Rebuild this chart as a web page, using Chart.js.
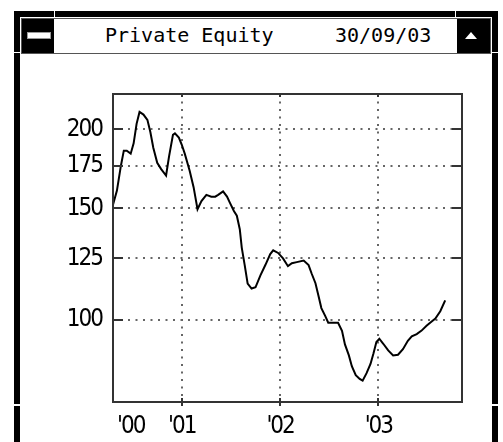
<!DOCTYPE html>
<html>
<head>
<meta charset="utf-8">
<script src="https://cdn.jsdelivr.net/npm/chart.js@4.4.0/dist/chart.umd.min.js"></script>
<style>
  html, body { margin: 0; padding: 0; background: #fff; }
  body { width: 503px; height: 442px; overflow: hidden; position: relative; }
  .abs { position: absolute; }
  #frame { left: 14px; top: 11px; width: 484px; height: 460px; border: 6px solid #000; box-sizing: border-box; }
  .notch { background: #fff; }
  #titlebar { left: 21px; top: 18px; width: 470px; height: 36px; border: 1px solid #555; box-sizing: border-box; background: #fff; }
  #btnMenu { left: 0; top: 0; width: 32px; height: 34px; background: #000; }
  #btnMenu .dash { left: 5px; top: 13px; width: 22px; height: 5px; background: #fff; border: 1px solid #999; }
  #btnUp { right: 0; top: 0; width: 33px; height: 34px; background: #000; }
  #btnUp .tri { left: 8px; top: 13px; width: 0; height: 0; border-left: 6px solid transparent; border-right: 6px solid transparent; border-bottom: 7px solid #fff; }
  .ttl { font-family: "DejaVu Sans Mono", monospace; font-size: 20px; line-height: 20px; color: #000; white-space: pre; }
  #chart { left: 0; top: 0; }
</style>
</head>
<body>
<div id="frame" class="abs"></div>
<div class="abs notch" style="left:54px;top:11px;width:1px;height:6px"></div>
<div class="abs notch" style="left:455px;top:11px;width:1px;height:6px"></div>
<div class="abs notch" style="left:14px;top:52px;width:6px;height:1px"></div>
<div class="abs notch" style="left:492px;top:52px;width:6px;height:1px"></div>
<div class="abs notch" style="left:14px;top:404px;width:6px;height:2px"></div>
<div class="abs notch" style="left:492px;top:404px;width:6px;height:2px"></div>
<div id="titlebar" class="abs">
  <div id="btnMenu" class="abs"><div class="dash abs"></div></div>
  <div id="btnUp" class="abs"><div class="tri abs"></div></div>
</div>
<div class="abs ttl" style="left:105px;top:25px">Private Equity</div>
<div class="abs ttl" style="left:335px;top:25px">30/09/03</div>
<canvas id="chart" class="abs" width="503" height="442"></canvas>
<script>
// index level (x = fractional year)
const dates = [
  2000.30, 2000.34, 2000.38, 2000.41, 2000.44, 2000.48, 2000.51, 2000.54, 2000.57, 2000.61,
  2000.65, 2000.68, 2000.71, 2000.75, 2000.79, 2000.84, 2000.87, 2000.91, 2000.93, 2000.97,
  2001.00, 2001.03, 2001.08, 2001.12, 2001.16, 2001.20, 2001.25, 2001.30, 2001.34, 2001.37,
  2001.42, 2001.46, 2001.49, 2001.53, 2001.56, 2001.59, 2001.61, 2001.64, 2001.67, 2001.71,
  2001.75, 2001.80, 2001.85, 2001.90, 2001.93, 2001.98, 2002.03, 2002.08, 2002.12, 2002.17,
  2002.24, 2002.29, 2002.32, 2002.36, 2002.39, 2002.42, 2002.46, 2002.49, 2002.54, 2002.59,
  2002.63, 2002.66, 2002.70, 2002.73, 2002.77, 2002.81, 2002.84, 2002.88, 2002.92, 2002.95,
  2002.98, 2003.01, 2003.05, 2003.10, 2003.15, 2003.20, 2003.25, 2003.30, 2003.34, 2003.39,
  2003.44, 2003.49, 2003.53, 2003.58, 2003.63, 2003.68
];
const values = [
  152, 160, 175, 185, 185, 183, 190, 204, 213, 211,
  207, 198, 187, 177, 173, 169, 181, 196, 197, 194,
  189, 183, 172, 162, 149.5, 154, 157.5, 156.5, 156.5, 157.5,
  159.5, 156.5, 153, 148.5, 146, 139, 130, 122, 114, 112,
  112.5, 117.5, 122, 127, 128.7, 127.5, 125, 121.5, 122.8, 123.3,
  124, 122, 118.4, 114.2, 109.2, 104.3, 101.3, 98.9, 98.9, 98.9,
  96, 91.4, 87.8, 84.4, 81.7, 80.6, 80.1, 82.3, 85.1, 88.4,
  92.2, 93.3, 91.6, 89.4, 87.8, 88, 89.8, 92.6, 94.1, 94.9,
  96.1, 97.8, 99, 100.4, 103.1, 107.3
];
const yTicks = [100, 125, 150, 175, 200];
const xTickValues = [2000.48, 2001, 2002, 2003];
const xTickLabels = ["'00", "'01", "'02", "'03"];

const labelFont = { family: "'Liberation Sans Narrow', 'DejaVu Sans Condensed', sans-serif", size: 24 };

function line(ctx, x1, y1, x2, y2) {
  ctx.beginPath(); ctx.moveTo(x1, y1); ctx.lineTo(x2, y2); ctx.stroke();
}

// narrow the label glyphs a bit, the original uses a tall narrow bitmap font
const narrowText = {
  id: 'narrowText',
  beforeDraw(chart) { chart.ctx.letterSpacing = '-2px'; },
};

// box round the plot plus the short inner tick marks
const boxTicks = {
  id: 'boxTicks',
  afterDatasetsDraw(chart) {
    const { ctx, chartArea: a, scales: { x, y } } = chart;
    ctx.save();
    ctx.strokeStyle = '#333';
    ctx.lineWidth = 2;
    ctx.strokeRect(a.left, a.top, a.right - a.left, a.bottom - a.top);
    yTicks.forEach(v => {
      const py = Math.round(y.getPixelForValue(v));
      line(ctx, a.left, py, a.left + 10, py);
      line(ctx, a.right - 10, py, a.right, py);
    });
    xTickValues.slice(1).forEach(v => {
      const px = Math.round(x.getPixelForValue(v));
      line(ctx, px, a.bottom - 4, px, a.bottom + 4);
      line(ctx, px, a.top, px, a.top + 3);
    });
    ctx.restore();
  }
};

new Chart(document.getElementById('chart'), {
  type: 'line',
  data: {
    datasets: [{
      data: dates.map((d, i) => ({ x: d, y: values[i] })),
      borderColor: '#000',
      borderWidth: 2,
      pointRadius: 0,
      tension: 0,
      fill: false,
    }],
  },
  options: {
    responsive: false,
    animation: false,
    devicePixelRatio: 1,
    layout: { padding: { left: 0, top: 94, right: 41, bottom: 0 } },
    plugins: { legend: { display: false }, tooltip: { enabled: false } },
    scales: {
      x: {
        type: 'linear',
        min: 2000.30,
        max: 2003.851,
        afterBuildTicks: s => { s.ticks = xTickValues.map(v => ({ value: v })); },
        afterFit: s => { s.height = 40; },
        grid: {
          color: c => (c.index === 0 ? 'rgba(0,0,0,0)' : '#666'),
          lineWidth: 2,
          drawTicks: false,
        },
        border: { display: false, dash: [2, 5.5] },
        ticks: {
          autoSkip: false,
          maxRotation: 0,
          padding: 10,
          color: '#000',
          font: labelFont,
          callback: (v, i) => xTickLabels[i],
        },
      },
      y: {
        type: 'logarithmic',
        min: 74.1,
        max: 227.4,
        afterBuildTicks: s => { s.ticks = yTicks.map(v => ({ value: v })); },
        afterFit: s => { s.width = 113; },
        grid: { color: '#666', lineWidth: 2, drawTicks: false },
        border: { display: false, dash: [2, 5.5] },
        ticks: {
          padding: 11,
          color: '#000',
          font: labelFont,
          callback: v => String(v),
        },
      },
    },
  },
  plugins: [narrowText, boxTicks],
});
</script>
</body>
</html>
